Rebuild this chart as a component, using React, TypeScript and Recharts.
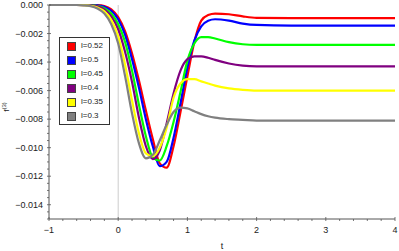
import { LineChart, Line, XAxis, YAxis, ReferenceLine } from "recharts";

// ---- Data (values in units of 1e-3) ----

const T = [
  -1, -0.6, -0.5, -0.4, -0.3, -0.2, -0.1, 0, 0.1, 0.2, 0.3, 0.4, 0.5, 0.6, 0.7,
  0.8, 0.9, 1.0, 1.1, 1.2, 1.3, 1.4, 1.6, 1.8, 2.0, 2.5, 3, 3.5, 4,
];

const L052 = [
  0, 0, 0, 0, -0.01, -0.07, -0.3, -0.85, -1.85, -3.4, -5.3, -7.4, -9.4, -11.1, -11.4,
  -9.9, -7.5, -5.0, -2.6, -1.1, -0.7, -0.6, -0.65, -0.8, -0.9, -0.92, -0.92, -0.92, -0.92,
];
const L05 = [
  0, 0, 0, 0, -0.03, -0.12, -0.4, -1.0, -2.1, -3.8, -5.8, -8.0, -9.9, -11.3, -11.0,
  -9.3, -6.9, -4.4, -2.5, -1.5, -1.1, -1.0, -1.1, -1.3, -1.4, -1.45, -1.45, -1.45, -1.45,
];
const L045 = [
  0, 0, 0, -0.02, -0.07, -0.22, -0.6, -1.35, -2.6, -4.6, -7.0, -9.2, -10.7, -10.9, -9.9,
  -8.2, -6.1, -3.9, -2.7, -2.25, -2.25, -2.35, -2.6, -2.75, -2.8, -2.8, -2.8, -2.8, -2.8,
];
const L04 = [
  0, 0, -0.01, -0.03, -0.1, -0.3, -0.8, -1.7, -3.3, -5.4, -7.9, -9.9, -10.8, -10.2, -8.3,
  -6.2, -4.6, -3.8, -3.6, -3.6, -3.7, -3.85, -4.1, -4.25, -4.3, -4.3, -4.3, -4.3, -4.3,
];
const L035 = [
  0, 0, -0.01, -0.05, -0.17, -0.45, -1.05, -2.2, -4.2, -6.7, -9.0, -10.4, -10.6, -10.0, -8.6,
  -6.5, -5.5, -5.2, -5.2, -5.35, -5.5, -5.65, -5.85, -5.95, -6.0, -6.0, -6.0, -6.0, -6.0,
];
const L03 = [
  0, 0, -0.02, -0.08, -0.25, -0.6, -1.35, -2.7, -5.0, -7.6, -9.7, -10.75, -10.5, -9.5, -8.4,
  -7.5, -7.2, -7.25, -7.45, -7.65, -7.8, -7.9, -8.0, -8.05, -8.1, -8.1, -8.1, -8.1, -8.1,
];

const SERIES = [
  { key: "l052", name: "l=0.52", color: "#ff0000", values: L052 },
  { key: "l05", name: "l=0.5", color: "#0000ff", values: L05 },
  { key: "l045", name: "l=0.45", color: "#00ff00", values: L045 },
  { key: "l04", name: "l=0.4", color: "#800080", values: L04 },
  { key: "l035", name: "l=0.35", color: "#ffff00", values: L035 },
  { key: "l03", name: "l=0.3", color: "#808080", values: L03 },
];

const X_MAJOR = [-1, 0, 1, 2, 3, 4];
const Y_MAJOR = [0, -0.002, -0.004, -0.006, -0.008, -0.01, -0.012, -0.014];

const xTicks: number[] = [];
for (let i = 0; i <= 25; i++) xTicks.push(Math.round((-1 + i * 0.2) * 10) / 10);
const yTicks: number[] = [];
for (let i = 0; i <= 30; i++) yTicks.push(Math.round(-i * 5) / 10000);

const data = T.map((t, i) => {
  const row: Record<string, number> = { t };
  SERIES.forEach((s) => {
    row[s.key] = s.values[i] / 1000;
  });
  return row;
});

const FONT = "'Liberation Sans', Arial, sans-serif";
const FRAME = "#555";

const isMajorX = (v: number) => X_MAJOR.some((m) => Math.abs(m - v) < 1e-6);
const isMajorY = (v: number) => Y_MAJOR.some((m) => Math.abs(m - v) < 1e-9);

function fmtY(v: number) {
  if (Math.abs(v) < 1e-9) return "0.000";
  return "\u2212" + Math.abs(v).toFixed(3);
}

// ---- Tick renderers (ticks point inward like Mathematica frames) ----

function BottomTick(props: any) {
  const { x, y, payload } = props;
  const major = isMajorX(payload.value);
  return (
    <g>
      <line x1={x} x2={x} y1={y} y2={y - (major ? 4 : 2)} stroke={FRAME} strokeWidth={0.8} />
      {major && (
        <text x={x} y={y + 12} textAnchor="middle" fontSize={9} fontFamily={FONT} fill="#222">
          {payload.value < 0 ? "\u2212" + Math.abs(payload.value) : payload.value}
        </text>
      )}
    </g>
  );
}

function TopTick(props: any) {
  const { x, y, payload } = props;
  const major = isMajorX(payload.value);
  return <line x1={x} x2={x} y1={y} y2={y + (major ? 4 : 2)} stroke={FRAME} strokeWidth={0.8} />;
}

function LeftTick(props: any) {
  const { x, y, payload } = props;
  const major = isMajorY(payload.value);
  return (
    <g>
      <line x1={x} x2={x + (major ? 4 : 2)} y1={y} y2={y} stroke={FRAME} strokeWidth={0.8} />
      {major && (
        <text x={x - 4} y={y + 3} textAnchor="end" fontSize={9} fontFamily={FONT} fill="#222">
          {fmtY(payload.value)}
        </text>
      )}
    </g>
  );
}

function RightTick(props: any) {
  const { x, y, payload } = props;
  const major = isMajorY(payload.value);
  return <line x1={x} x2={x - (major ? 4 : 2)} y1={y} y2={y} stroke={FRAME} strokeWidth={0.8} />;
}

function LegendBox() {
  return (
    <div
      style={{
        position: "absolute",
        left: 59,
        top: 37,
        border: "1px solid #333",
        background: "#fff",
        padding: "1px 6px 1px 7px",
        fontFamily: FONT,
        fontSize: 8,
        color: "#222",
        lineHeight: "14px",
      }}
    >
      {SERIES.map((s) => (
        <div key={s.key} style={{ display: "flex", alignItems: "center" }}>
          <span
            style={{
              display: "inline-block",
              width: 7,
              height: 7,
              background: s.color,
              border: "0.5px solid #444",
              marginRight: 5,
            }}
          />
          {s.name}
        </div>
      ))}
    </div>
  );
}

export default function App() {
  return (
    <div style={{ position: "fixed", left: 0, top: 0, width: 399, height: 251, background: "#fff" }}>
      <LineChart width={399} height={251} data={data} margin={{ top: 5, right: 4, bottom: 0, left: 4 }}>
        <XAxis
          dataKey="t"
          type="number"
          domain={[-1, 4]}
          ticks={xTicks}
          interval={0}
          tickSize={0}
          tick={<BottomTick />}
          stroke={FRAME}
          height={32}
          label={{ value: "t", position: "insideBottom", offset: 2, fontSize: 9, fontFamily: FONT, fill: "#222" }}
        />
        <XAxis
          xAxisId="top"
          orientation="top"
          type="number"
          domain={[-1, 4]}
          ticks={xTicks}
          interval={0}
          tickSize={0}
          tick={<TopTick />}
          stroke={FRAME}
          height={0}
        />
        <YAxis
          type="number"
          domain={[-0.015, 0]}
          ticks={yTicks}
          interval={0}
          tickSize={0}
          tick={<LeftTick />}
          stroke={FRAME}
          width={45}
          label={{
            content: () => (
              <text x={9} y={107} transform="rotate(-90 9 107)" fontSize={8} fontFamily={FONT} fill="#222" textAnchor="middle">
                f
                <tspan dy={-3} fontSize={6}>(3)</tspan>
              </text>
            ),
          }}
        />
        <YAxis
          yAxisId="right"
          orientation="right"
          type="number"
          domain={[-0.015, 0]}
          ticks={yTicks}
          interval={0}
          tickSize={0}
          tick={<RightTick />}
          stroke={FRAME}
          width={0}
        />
        <ReferenceLine x={0} stroke="#cccccc" strokeWidth={1} />
        {SERIES.map((s) => (
          <Line
            key={s.key}
            dataKey={s.key}
            name={s.name}
            type="monotone"
            stroke={s.color}
            strokeWidth={2.2}
            dot={false}
            isAnimationActive={false}
          />
        ))}
      </LineChart>
      <LegendBox />
    </div>
  );
}
